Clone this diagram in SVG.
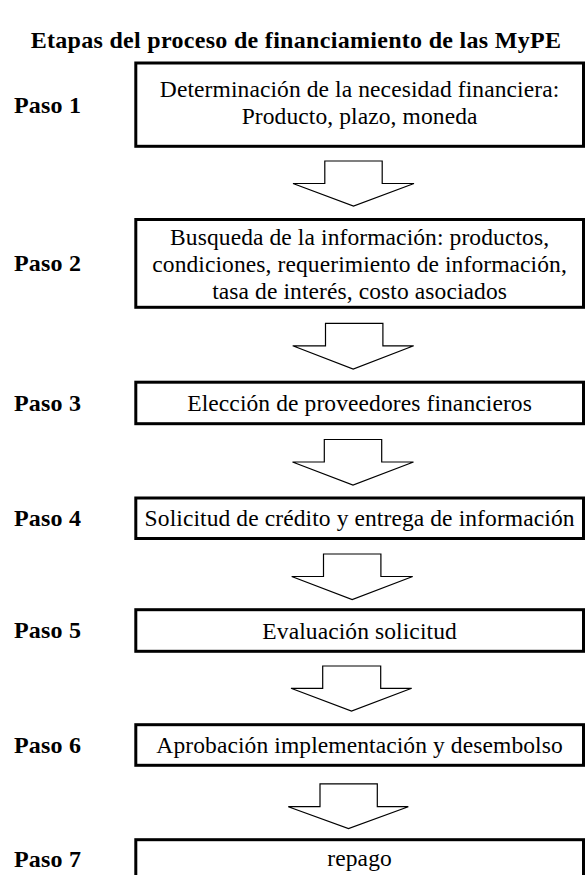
<svg xmlns="http://www.w3.org/2000/svg" width="585" height="875" viewBox="0 0 585 875">
<defs>
<style>
.title{font-family:"Liberation Serif","Times New Roman",serif;font-weight:bold;font-size:24px;letter-spacing:0.3px;fill:#000}
.paso{font-family:"Liberation Serif","Times New Roman",serif;font-weight:bold;font-size:24px;letter-spacing:0.2px;fill:#000}
.txt{font-family:"Liberation Serif","Times New Roman",serif;font-size:23.5px;letter-spacing:0.1px;fill:#000;text-anchor:middle}
.box{fill:#fff;stroke:#000;stroke-width:3}
.arrow{fill:#fff;stroke:#000;stroke-width:1.2;stroke-linejoin:miter}
</style>
</defs>
<rect width="585" height="875" fill="#fff"/>
<text class="title" x="296" y="48" text-anchor="middle">Etapas del proceso de financiamiento de las MyPE</text>

<g id="step1">
<text class="paso" x="14" y="113">Paso 1</text>
<rect class="box" x="135.8" y="63" width="447.7" height="83.3"/>
<text class="txt" x="359.6" y="96.7">Determinación de la necesidad financiera:</text>
<text class="txt" x="359.6" y="123.5">Producto, plazo, moneda</text>
</g>
<g id="step2">
<text class="paso" x="14" y="270.7">Paso 2</text>
<rect class="box" x="135.8" y="219.5" width="447.7" height="87.8"/>
<text class="txt" x="359.6" y="245">Busqueda de la información: productos,</text>
<text class="txt" x="359.6" y="272">condiciones, requerimiento de información,</text>
<text class="txt" x="359.6" y="299">tasa de interés, costo asociados</text>
</g>
<g id="step3">
<text class="paso" x="14" y="410.7">Paso 3</text>
<rect class="box" x="135.8" y="382.2" width="447.7" height="41.5"/>
<text class="txt" x="359.6" y="410.5">Elección de proveedores financieros</text>
</g>
<g id="step4">
<text class="paso" x="14" y="525.8">Paso 4</text>
<rect class="box" x="135.8" y="498" width="447.7" height="40.5"/>
<text class="txt" x="359.6" y="526">Solicitud de crédito y entrega de información</text>
</g>
<g id="step5">
<text class="paso" x="14" y="637.5">Paso 5</text>
<rect class="box" x="135.8" y="609.7" width="447.7" height="41.6"/>
<text class="txt" x="359.6" y="638.5">Evaluación solicitud</text>
</g>
<g id="step6">
<text class="paso" x="14" y="752.5">Paso 6</text>
<rect class="box" x="135.8" y="724.7" width="447.7" height="40.6"/>
<text class="txt" x="359.6" y="753">Aprobación implementación y desembolso</text>
</g>
<g id="step7">
<text class="paso" x="14" y="866.7">Paso 7</text>
<rect class="box" x="135.8" y="839.7" width="447.7" height="45"/>
<text class="txt" x="359.6" y="865.5">repago</text>
</g>

<g id="connectors">
<path class="arrow" d="M324.8,161 H382.2 V183.5 H414 L353.5,206 L293,183.5 H324.8 Z"/>
<path class="arrow" d="M325.5,323.3 H382.9 V345.8 H413.7 L353.2,369 L292.7,345.8 H325.5 Z"/>
<path class="arrow" d="M324.3,439.5 H381.7 V462 H413.5 L353,485 L292.5,462 H324.3 Z"/>
<path class="arrow" d="M323.5,554 H380.9 V576.5 H412.7 L352.2,599.5 L291.7,576.5 H323.5 Z"/>
<path class="arrow" d="M322.7,666 H380.7 V688.3 H411.7 L351.5,711 L291,688.3 H322.7 Z"/>
<path class="arrow" d="M320,783.8 H377.3 V806.7 H408.3 L348.5,828.5 L288.3,806.7 H320 Z"/>
</g>
</svg>
